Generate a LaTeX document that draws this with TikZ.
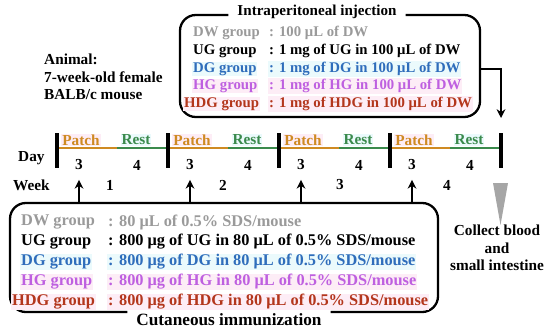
\documentclass[tikz,border=0pt]{standalone}
\usepackage{fontspec}
\setmainfont{Liberation Serif}
\usepackage{xcolor}
\usetikzlibrary{arrows.meta, positioning, calc}

\definecolor{dwgray}{HTML}{9A9A9A}
\definecolor{dgblue}{HTML}{2F6DBB}
\definecolor{hgviolet}{HTML}{BE5FE0}
\definecolor{hdgred}{HTML}{B3361C}
\definecolor{patchorange}{HTML}{CF8A22}
\definecolor{restgreen}{HTML}{3A8A4C}
\definecolor{hlcyan}{HTML}{EBFAFC}
\definecolor{hlpink}{HTML}{FDEDF6}

\tikzset{
  txt/.style={inner sep=0.5pt, anchor=west},
  iptxt/.style={txt, font=\bfseries\fontsize{8.4}{10}\selectfont},
  cutxt/.style={txt, font=\bfseries\fontsize{9.3}{11}\selectfont},
  boxline/.style={line width=1.3pt, rounded corners=9pt},
  tick/.style={line width=1.8pt},
  upar/.style={line width=1.1pt, -{Stealth[length=5pt, width=5pt]}}
}

\begin{document}
\begin{tikzpicture}[x=0.02cm, y=-0.02cm, font=\bfseries\fontsize{8.7}{10}\selectfont]
  \useasboundingbox (0,0) rectangle (550,332);

  % Animal
  \node[txt, align=left] (animal) at (43,77) {Animal:\\7-week-old female\\BALB/c mouse};

  % Intraperitoneal injection box
  \node[inner sep=1pt, font=\bfseries\fontsize{8.6}{10}\selectfont] (ipt) at (317,12) {Intraperitoneal injection};
  \draw[boxline] ([xshift=-4pt]ipt.west |- 0,15) -- (180,15) -- (180,117) -- (480,117) -- (480,15)
    -- ([xshift=4pt]ipt.east |- 0,15);
  \node[iptxt, dwgray] (ipdw) at (192,33) {DW group};
  \node[iptxt, dwgray] (ipdwa) at (268,33) {: 100 μL of DW};
  \node[iptxt] (ipug) at (192,51) {UG group};
  \node[iptxt] (ipuga) at (268,51) {: 1 mg of UG in 100 μL of DW};
  \node[iptxt, dgblue, fill=hlcyan] (ipdg) at (192,69) {DG group};
  \node[iptxt, dgblue, fill=hlcyan] (ipdga) at (268,69) {: 1 mg of DG in 100 μL of DW};
  \node[iptxt, hgviolet, fill=hlpink] (iphg) at (192,86) {HG group};
  \node[iptxt, hgviolet, fill=hlpink] (iphga) at (268,86) {: 1 mg of HG in 100 μL of DW};
  \node[iptxt, hdgred, fill=hlpink] (iphdg) at (183,104) {HDG group};
  \node[iptxt, hdgred, fill=hlpink] (iphdga) at (268,104) {: 1 mg of HDG in 100 μL of DW};

  % Timeline
  \node[txt] (day) at (17,158) {Day};
  \node[txt] (week) at (12,185) {Week};
  \foreach \k/\w/\wx in {0/1/110, 1/2/223, 2/3/340, 3/4/447} {
    \coordinate (b\k) at ({57+111*\k},148);
    \draw[line width=1.6pt, patchorange] (b\k) -- ++(60,0);
    \draw[line width=1.6pt, restgreen] ($(b\k)+(60,0)$) -- ++(51,0);
    \draw[tick] ($(b\k)+(0,-15)$) -- ++(0,35);
    \node[patchorange, fill=hlpink, inner sep=0.5pt] (patch\k) at ($(b\k)+(24,-8)$) {Patch};
    \node[restgreen, fill=hlcyan, inner sep=0.5pt] (rest\k) at ($(b\k)+(79,-8)$) {Rest};
    \node (dthree\k) at ($(b\k)+(22,17)$) {3};
    \node (dfour\k) at ($(b\k)+(80,17)$) {4};
    \node (wk\k) at (\wx,185) {\w};
  }
  \coordinate (b4) at (501,148);
  \draw[tick] ($(b4)+(0,-15)$) -- ++(0,35);

  % injection arrow to the end of the schedule
  \coordinate (ipend) at (501,118);
  \draw[line width=1.1pt, -{Stealth[length=5pt, width=5pt]}] (480,69) -| (ipend);

  % Cutaneous immunization box
  \node[inner sep=1pt, font=\bfseries\fontsize{9.8}{11}\selectfont] (cut) at (229,320) {Cutaneous immunization};
  \draw[boxline] ([xshift=-4pt]cut.west |- 0,312) -- (10,312) -- (10,203) -- (438,203) -- (438,312)
    -- ([xshift=4pt]cut.east |- 0,312);
  \node[cutxt, dwgray] (cdw) at (20,222) {DW group};
  \node[cutxt, dwgray] (cdwa) at (107,222) {: 80 μL of 0.5\% SDS/mouse};
  \node[cutxt] (cug) at (20,242) {UG group};
  \node[cutxt] (cuga) at (107,242) {: 800 μg of UG in 80 μL of 0.5\% SDS/mouse};
  \node[cutxt, dgblue, fill=hlcyan] (cdg) at (20,262) {DG group};
  \node[cutxt, dgblue, fill=hlcyan] (cdga) at (107,262) {: 800 μg of DG in 80 μL of 0.5\% SDS/mouse};
  \node[cutxt, hgviolet, fill=hlpink] (chg) at (20,282) {HG group};
  \node[cutxt, hgviolet, fill=hlpink] (chga) at (107,282) {: 800 μg of HG in 80 μL of 0.5\% SDS/mouse};
  \node[cutxt, hdgred, fill=hlpink] (chdg) at (11,302) {HDG group};
  \node[cutxt, hdgred, fill=hlpink] (chdga) at (107,302) {: 800 μg of HDG in 80 μL of 0.5\% SDS/mouse};

  % patch arrows
  \foreach \k in {0,1,2,3} {
    \draw[upar] (dthree\k.south |- 0,203) -- ([yshift=-2pt]dthree\k.south);
  }

  % Collect
  \fill[gray!70] (493,183) -- (508,183) -- (500.5,225) -- cycle;
  \node[align=center] (collect) at (497,248) {Collect blood\\and\\small intestine};
\end{tikzpicture}
\end{document}
